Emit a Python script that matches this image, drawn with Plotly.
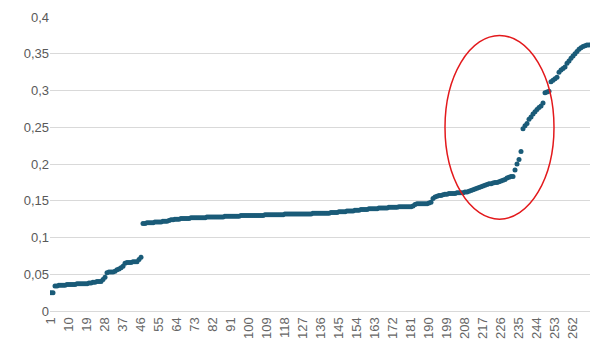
import plotly.graph_objects as go

values = [
    0.025, 0.025, 0.034, 0.034, 0.035, 0.035, 0.035, 0.035, 0.036, 0.036,
    0.036, 0.036, 0.036, 0.037, 0.037, 0.037, 0.037, 0.037, 0.037, 0.038,
    0.038, 0.039, 0.039, 0.040, 0.040, 0.040, 0.043, 0.046, 0.052, 0.053,
    0.053, 0.053, 0.054, 0.056, 0.057, 0.059, 0.061, 0.065, 0.066, 0.066,
    0.066, 0.067, 0.067, 0.067, 0.070, 0.073, 0.119, 0.119, 0.120, 0.120,
    0.120, 0.120, 0.121, 0.121, 0.121, 0.121, 0.122, 0.122, 0.122, 0.123,
    0.124, 0.124, 0.125, 0.125, 0.125, 0.126, 0.126, 0.126, 0.126, 0.126,
    0.127, 0.127, 0.127, 0.127, 0.127, 0.127, 0.127, 0.127, 0.128, 0.128,
    0.128, 0.128, 0.128, 0.128, 0.128, 0.128, 0.128, 0.129, 0.129, 0.129,
    0.129, 0.129, 0.129, 0.129, 0.129, 0.130, 0.130, 0.130, 0.130, 0.130,
    0.130, 0.130, 0.130, 0.130, 0.130, 0.130, 0.130, 0.131, 0.131, 0.131,
    0.131, 0.131, 0.131, 0.131, 0.131, 0.131, 0.131, 0.132, 0.132, 0.132,
    0.132, 0.132, 0.132, 0.132, 0.132, 0.132, 0.132, 0.132, 0.132, 0.132,
    0.132, 0.133, 0.133, 0.133, 0.133, 0.133, 0.133, 0.133, 0.133, 0.133,
    0.134, 0.134, 0.134, 0.134, 0.135, 0.135, 0.135, 0.135, 0.136, 0.136,
    0.136, 0.136, 0.137, 0.137, 0.137, 0.138, 0.138, 0.138, 0.138, 0.139,
    0.139, 0.139, 0.139, 0.139, 0.140, 0.140, 0.140, 0.140, 0.140, 0.141,
    0.141, 0.141, 0.141, 0.141, 0.142, 0.142, 0.142, 0.142, 0.142, 0.142,
    0.142, 0.143, 0.145, 0.146, 0.146, 0.146, 0.146, 0.146, 0.146, 0.147,
    0.148, 0.153, 0.155, 0.156, 0.157, 0.157, 0.158, 0.159, 0.159, 0.160,
    0.160, 0.160, 0.160, 0.161, 0.161, 0.161, 0.161, 0.162, 0.162, 0.163,
    0.164, 0.165, 0.166, 0.167, 0.168, 0.169, 0.170, 0.171, 0.172, 0.173,
    0.173, 0.174, 0.175, 0.175, 0.176, 0.177, 0.178, 0.179, 0.181, 0.182,
    0.183, 0.183, 0.192, 0.200, 0.206, 0.217, 0.248, 0.252, 0.255, 0.261,
    0.264, 0.268, 0.271, 0.274, 0.277, 0.279, 0.283, 0.297, 0.298, 0.299,
    0.312, 0.314, 0.316, 0.318, 0.325, 0.328, 0.330, 0.332, 0.337, 0.340,
    0.344, 0.347, 0.350, 0.353, 0.356, 0.358, 0.360, 0.361, 0.362, 0.362,
]
categories = list(range(1, len(values) + 1))
tick_labels = [str(v) for v in range(1, len(values) + 1, 9)]

# highlight ellipse (data coordinates)
ellipse_x = [198, 252.5]
ellipse_y = [0.125, 0.375]

fig = go.Figure()
fig.add_trace(go.Scatter(
    x=categories, y=values, mode="markers",
    marker=dict(color="#1a5b78", size=5, line=dict(width=0)),
    hoverinfo="x+y",
))
fig.add_shape(type="circle", xref="x", yref="y",
              x0=ellipse_x[0], x1=ellipse_x[1], y0=ellipse_y[0], y1=ellipse_y[1],
              line=dict(color="#e3191c", width=1.5))

fig.update_layout(
    width=600, height=351,
    margin=dict(l=50, r=10, t=11, b=40),
    paper_bgcolor="white", plot_bgcolor="white",
    separators=", ",
    showlegend=False,
    font=dict(family="Liberation Sans, Arial, sans-serif", size=12, color="#595959"),
)
fig.update_xaxes(
    range=[0.5, len(values) + 0.5],
    tickmode="array",
    tickvals=[int(t) for t in tick_labels],
    ticktext=tick_labels,
    tickangle=-90,
    showgrid=False, zeroline=False,
    showline=True, linecolor="#d9d9d9", linewidth=1,
    ticks="", tickfont=dict(size=13, color="#666666"),
)
fig.update_yaxes(
    range=[0, 0.4], dtick=0.05,
    showgrid=True, gridcolor="#d9d9d9", gridwidth=1,
    zeroline=False, showline=False, ticks="",
    tickfont=dict(size=13, color="#595959"),
)
fig.write_html("out.html")
